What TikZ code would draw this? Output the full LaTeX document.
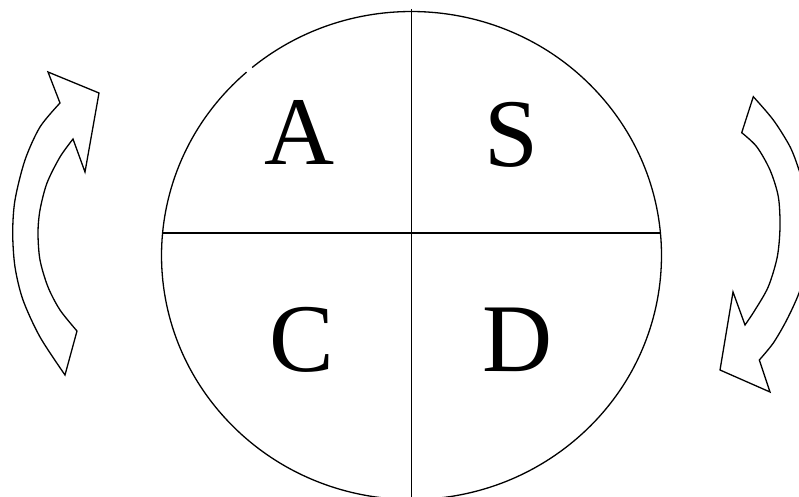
\documentclass[tikz,border=0pt]{standalone}
\usepackage{fontspec}
\setmainfont{Liberation Serif}
\begin{document}
\begin{tikzpicture}[x=1pt,y=1pt,
  line/.style={draw=black,line width=1.3pt},
  letter/.style={inner sep=0pt,anchor=base,font=\fontsize{97}{100}\selectfont},
  bigarrow/.style={draw=black,fill=white,line width=1.3pt,line join=miter}]
\useasboundingbox (0,0) rectangle (799,497);
\clip (0,0) rectangle (799,497);
\coordinate (O) at (411.5,241.5);
\coordinate (Ttop) at (411.5,488);
\coordinate (Tbot) at (411.5,0);
\coordinate (Lh) at (162.6,264);
\coordinate (Rh) at (660.4,264);
% circle with a small gap
\draw[line] ([shift={(131.3:250 and 244)}]O) arc[start angle=131.3, end angle=489.6, x radius=250, y radius=244];
\draw[line] (Ttop) -- (Tbot);
\draw[line] (Lh) -- (Rh);
\node[letter] (A) at (300,332) {A};
\node[letter] (S) at (511.5,330) {S};
\node[letter] (C) at (302,125) {C};
\node[letter] (D) at (518,125) {D};
% left arrow
\path[bigarrow] plot[smooth] coordinates {(65,122) (40,160) (23,197) (15,230) (12.7,264) (15,297) (25,337) (40,370) (60,394)}
  -- (48,425) -- (99,404) -- (85,325)
  -- plot[smooth] coordinates {(73,358) (60,340) (47,314) (40,287) (38,264) (40,237) (48,210) (60,187) (77,166)}
  -- cycle;
% right arrow
\path[bigarrow] plot[smooth] coordinates {(753.3,400.3) (773.3,377) (790,350.3) (799,327) (808,297) (811,266) (808,235) (799,204) (786.7,177) (773.3,154) (759.3,137)}
  -- (770,105) -- (720,127) -- (733,205)
  -- plot[smooth] coordinates {(745,172) (755,187) (768.3,210.3) (777.3,240.3) (780,270.3) (778.3,300.3) (770,327) (756.7,350.3) (741.7,364.3)}
  -- cycle;
\end{tikzpicture}
\end{document}
